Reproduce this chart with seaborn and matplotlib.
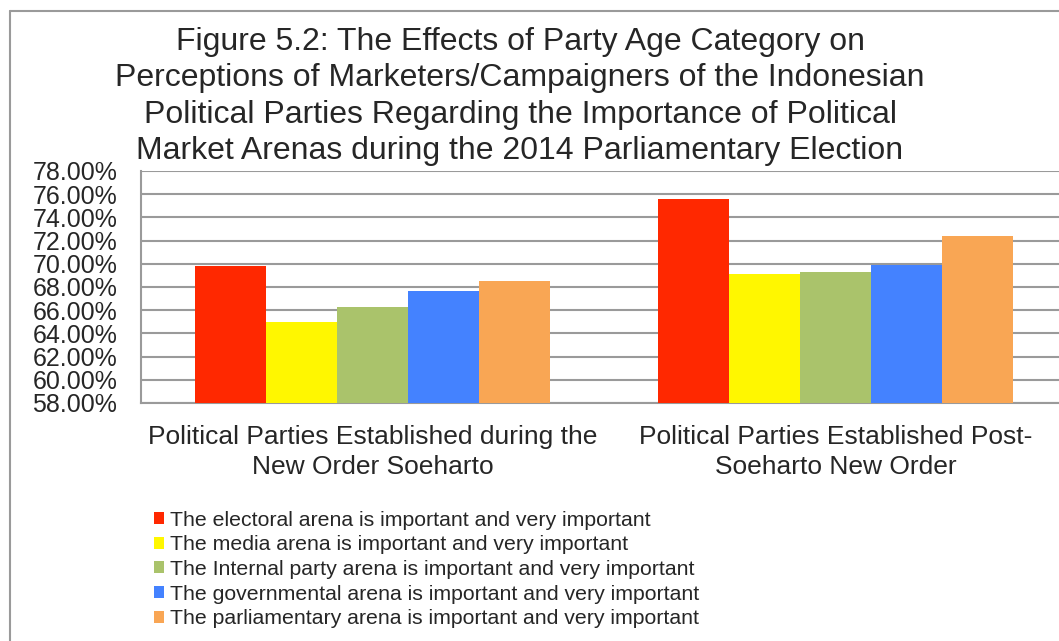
import numpy as np
import pandas as pd
import matplotlib
matplotlib.use("Agg")
import matplotlib.pyplot as plt
import seaborn as sns

# data
groups = ["Political Parties Established during the\nNew Order Soeharto",
          "Political Parties Established Post-\nSoeharto New Order"]
arenas = ["The electoral arena is important and very important",
          "The media arena is important and very important",
          "The Internal party arena is important and very important",
          "The governmental arena is important and very important",
          "The parliamentary arena is important and very important"]
electoral = [69.8, 75.6]
media = [65.0, 69.1]
internal = [66.3, 69.3]
governmental = [67.65, 69.9]
parliamentary = [68.5, 72.4]
colors = ["#FF2800", "#FFF700", "#AAC36B", "#4482FF", "#F9A654"]
yticks = np.arange(58, 80, 2)

rows = []
for arena, vals in zip(arenas, [electoral, media, internal, governmental, parliamentary]):
    for g, v in zip(groups, vals):
        rows.append({"group": g, "arena": arena, "value": v})
df = pd.DataFrame(rows)

sns.set_style("white")
plt.rcParams['font.family'] = ['Liberation Sans', 'DejaVu Sans']

fig = plt.figure(figsize=(10.59, 6.41), dpi=100)
ax = fig.add_axes([141 / 1059, 1 - 403 / 641, 1 - 141 / 1059, (403 - 171) / 641])

sns.barplot(data=df, x="group", y="value", hue="arena", hue_order=arenas,
            order=groups, palette=colors, width=0.767, gap=0, saturation=1,
            edgecolor="none", linewidth=0, ax=ax, zorder=3)

ax.set_ylim(58, 78)
ax.set_xlim(-0.5, 1.482)
ax.set_yticks(yticks)
ax.set_yticklabels([f"{t:.2f}%" for t in yticks], fontsize=18)
ax.tick_params(axis="y", length=0, pad=17)
ax.tick_params(axis="x", length=0, pad=16, labelsize=19)
for lab in ax.get_xticklabels():
    lab.set_multialignment("center")
    lab.set_linespacing(1.32)
ax.set_xlabel("")
ax.set_ylabel("")
ax.yaxis.grid(True, color="#9a9a9a", linewidth=1.5, zorder=0)
ax.set_axisbelow(True)
for s in ["top", "right"]:
    ax.spines[s].set_visible(False)
for s in ["left", "bottom"]:
    ax.spines[s].set_color("#9a9a9a")
    ax.spines[s].set_linewidth(1.5)

handles, labels = ax.get_legend_handles_labels()
ax.get_legend().remove()
fig.legend(handles, labels, loc="upper left", bbox_to_anchor=(145 / 1059, 1 - 502 / 641),
           frameon=False, fontsize=15.3, handlelength=0.5, handleheight=0.5,
           handletextpad=0.3, labelspacing=0.27, borderaxespad=0)

fig.text(520 / 1059, 1 - 27 / 641,
         "Figure 5.2: The Effects of Party Age Category on\n"
         "Perceptions of Marketers/Campaigners of the Indonesian\n"
         "Political Parties Regarding the Importance of Political\n"
         "Market Arenas during the 2014 Parliamentary Election",
         ha="center", va="top", fontsize=23, linespacing=1.28)

# outer chart border (left and top edges are visible in the crop)
x0, y0 = 10 / 1059, 1 - 11 / 641
fig.add_artist(plt.Line2D([x0, x0], [0, y0], color="#9a9a9a",
                          linewidth=1.5, transform=fig.transFigure))
fig.add_artist(plt.Line2D([x0, 1], [y0, y0], color="#9a9a9a",
                          linewidth=1.5, transform=fig.transFigure))

fig.savefig("out.png", dpi=100)
